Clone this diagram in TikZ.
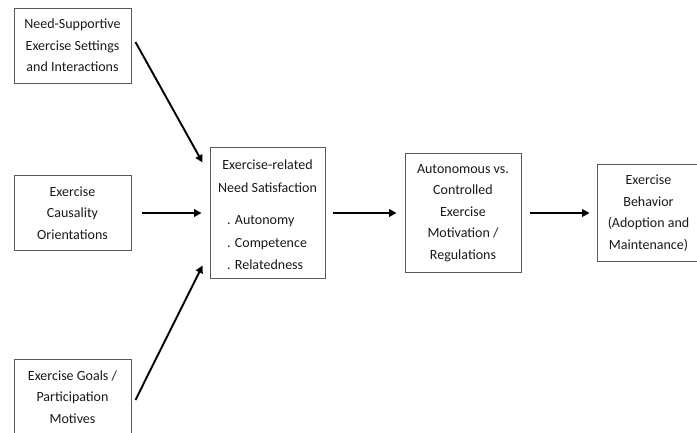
\documentclass[tikz,border=0pt]{standalone}
\usepackage{fontspec}
\setmainfont{Carlito}
\usetikzlibrary{arrows.meta}
\begin{document}
\begin{tikzpicture}[x=1pt,y=-1pt,
  box/.style={draw=black!65, line width=0.9pt, align=center, inner sep=0pt,
    font=\fontsize{14}{21.5}\selectfont, text=black!90},
  txt/.style={inner sep=0pt, font=\fontsize{14}{22.5}\selectfont, text=black!90},
  arr/.style={line width=1.9pt, -{Triangle[length=7.5pt,width=7.5pt]}}]
\useasboundingbox (0,0) rectangle (697,432);
\node[box, minimum width=117pt, minimum height=75pt] (b1) at (72.5,45.5)
  {Need-Supportive\\Exercise Settings\\and Interactions};
\node[box, minimum width=117pt, minimum height=75pt] (b2) at (72.5,213)
  {Exercise\\Causality\\Orientations};
\node[box, minimum width=117pt, minimum height=75pt] (b3) at (72.5,397)
  {Exercise Goals /\\Participation\\Motives};
\node[box, minimum width=115pt, minimum height=131pt] (c) at (267.5,213) {};
\node[txt, align=center] (ct) at (267.5,176) {Exercise-related\\Need Satisfaction};
\node[txt, align=left, anchor=west] (cl) at (227,243) {. Autonomy\\. Competence\\. Relatedness};
\node[box, minimum width=116pt, minimum height=119pt] (b4) at (463,213)
  {Autonomous vs.\\Controlled\\Exercise\\Motivation /\\Regulations};
\node[box, minimum width=103pt, minimum height=97pt] (b5) at (648.5,213)
  {Exercise\\Behavior\\(Adoption and\\Maintenance)};
\draw[arr] ([xshift=4pt,yshift=3.5pt]b1.east) -- ([xshift=-7pt,yshift=50.5pt]c.west);
\draw[arr] ([xshift=11pt]b2.east) -- ([xshift=-8pt]c.west);
\draw[arr] ([xshift=4pt,yshift=-3pt]b3.east) -- ([xshift=-7pt,yshift=-52.5pt]c.west);
\draw[arr] ([xshift=8pt]c.east) -- ([xshift=-8pt]b4.west);
\draw[arr] ([xshift=9pt]b4.east) -- ([xshift=-7pt]b5.west);
\end{tikzpicture}
\end{document}
